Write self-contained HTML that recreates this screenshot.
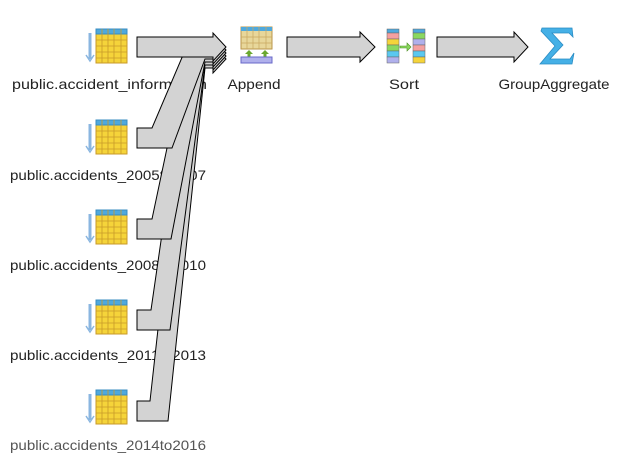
<!DOCTYPE html>
<html><head><meta charset="utf-8"><style>
body{margin:0;background:#fff;width:626px;height:467px;overflow:hidden}
svg{display:block}
text{font-family:"Liberation Sans","DejaVu Sans",sans-serif;font-size:14px;fill:#222}
</style></head><body>
<svg width="626" height="467" viewBox="0 0 626 467">
<defs>
<g id="tbl">
  <line x1="4" y1="4" x2="4" y2="30" stroke="#8ab6e0" stroke-width="3"/>
  <path d="M0,26 L4,32 L8,26" fill="none" stroke="#8ab6e0" stroke-width="1.5"/>
  <rect x="10" y="0" width="31" height="34" fill="#f5d43a" stroke="#c89a2a"/>
  <rect x="10" y="0" width="31" height="5" fill="#4fa9dd" stroke="#3a8cc0"/>
  <path d="M16,0V34M22,0V34M28,0V34M35,0V34M10,11H41M10,17H41M10,23H41M10,29H41" stroke="#c89a2a" stroke-width="0.8"/>
</g>
</defs>
<text x="12" y="89" textLength="195" lengthAdjust="spacingAndGlyphs">public.accident_information</text>
<text x="10" y="180" textLength="196" lengthAdjust="spacingAndGlyphs">public.accidents_2005to2007</text>
<text x="10" y="270" textLength="196" lengthAdjust="spacingAndGlyphs">public.accidents_2008to2010</text>
<text x="10" y="360" textLength="196" lengthAdjust="spacingAndGlyphs">public.accidents_2011to2013</text>
<text x="10" y="450" textLength="196" lengthAdjust="spacingAndGlyphs" style="fill:#555">public.accidents_2014to2016</text>
<use href="#tbl" x="86" y="29"/>
<use href="#tbl" x="86" y="120"/>
<use href="#tbl" x="86" y="210"/>
<use href="#tbl" x="86" y="300"/>
<use href="#tbl" x="86" y="390"/>
<g fill="#d3d3d3" stroke="#000" stroke-width="1">
<polygon points="137,401 150,401 189,50 213,50 213,45 226,59 213,73 213,68 205,68 168,421 137,421"/>
<polygon points="137,310 151,310 189,47 213,47 213,42 226,56 213,70 213,65 205,65 170,330 137,330"/>
<polygon points="137,219 152,219 189,44 213,44 213,39 226,53 213,67 213,62 205,62 171,239 137,239"/>
<polygon points="137,128 152,128 189,41 213,41 213,36 226,50 213,64 213,59 205,59 172,148 137,148"/>
<polygon points="137,37 213,37 213,33 226,47 213,61 213,57 137,57"/>
<polygon points="287,37 360,37 360,32 375,47 360,62 360,57 287,57"/>
<polygon points="437,37 514,37 514,32 528,47 514,62 514,57 437,57"/>
</g>
<!-- Append icon -->
<rect x="241" y="27" width="31" height="22" fill="#e8d79a" stroke="#b9954a"/>
<rect x="241" y="27" width="31" height="4" fill="#4fa9dd"/>
<path d="M247,27V49M253,27V49M259,27V49M266,27V49M241,37H272M241,43H272" stroke="#c8a860" stroke-width="0.7"/>
<path d="M249,50l-4,4h2.5v3h3v-3h2.5z M265,50l-4,4h2.5v3h3v-3h2.5z" fill="#6aa830"/>
<rect x="241" y="57" width="31" height="6" fill="#b0b0ec" stroke="#6868c8"/>
<text x="254" y="89" text-anchor="middle" textLength="53" lengthAdjust="spacingAndGlyphs">Append</text>
<!-- Sort icon -->
<g stroke="#666" stroke-width="0.5">
<rect x="387" y="29" width="12" height="4" fill="#4fa9dd"/>
<rect x="387" y="33" width="12" height="6" fill="#f4a0a0"/>
<rect x="387" y="39" width="12" height="6" fill="#f5d43a"/>
<rect x="387" y="45" width="12" height="6" fill="#8ad860"/>
<rect x="387" y="51" width="12" height="6" fill="#5ac8f0"/>
<rect x="387" y="57" width="12" height="6" fill="#b0b0ec"/>
<rect x="413" y="29" width="12" height="4" fill="#4fa9dd"/>
<rect x="413" y="33" width="12" height="6" fill="#8ad860"/>
<rect x="413" y="39" width="12" height="6" fill="#b0b0ec"/>
<rect x="413" y="45" width="12" height="6" fill="#f4a0a0"/>
<rect x="413" y="51" width="12" height="6" fill="#5ac8f0"/>
<rect x="413" y="57" width="12" height="6" fill="#f5d43a"/>
</g>
<path d="M400,46h7v-3l4,4l-4,4v-3h-7z" fill="#8ad860" stroke="#4a9020" stroke-width="0.6"/>
<text x="404" y="89" text-anchor="middle" textLength="30" lengthAdjust="spacingAndGlyphs">Sort</text>
<!-- Sigma -->
<polygon points="542,28 572,28 573,37 569,33 552,33 563,45 550,59 570,59 574,53 572,64 540,64 555,46 541,31" fill="#45b0e6" stroke="#2a8cc4" stroke-width="0.8"/>
<text x="554" y="89" text-anchor="middle" textLength="111" lengthAdjust="spacingAndGlyphs">GroupAggregate</text>
</svg>
</body></html>
